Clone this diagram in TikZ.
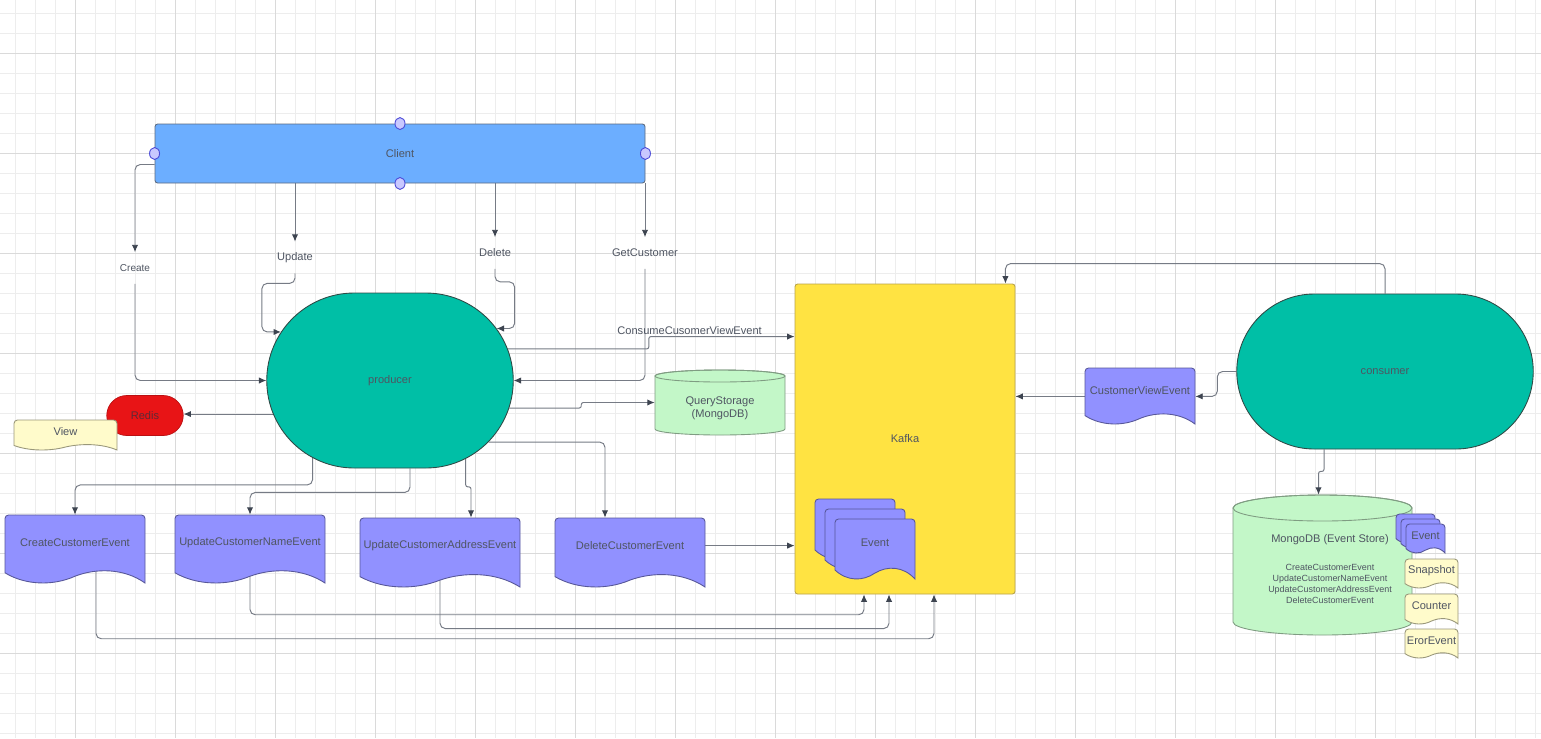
\documentclass[tikz,border=0pt]{standalone}
\usepackage{fontspec}
\setmainfont{Liberation Sans}
\usetikzlibrary{arrows.meta, calc, shapes.misc}

\definecolor{gridminor}{HTML}{EDEDED}
\definecolor{gridmajor}{HTML}{DADADA}
\definecolor{wirecol}{HTML}{767B85}
\definecolor{tipgray}{HTML}{3D4450}
\definecolor{txtgray}{HTML}{4F5562}
\definecolor{clientblue}{HTML}{6CAEFF}
\definecolor{clientedge}{HTML}{5C6B80}
\definecolor{svcteal}{HTML}{00BFA6}
\definecolor{svcedge}{HTML}{2F4A46}
\definecolor{evpurple}{HTML}{9191FF}
\definecolor{kafkayellow}{HTML}{FFE342}
\definecolor{kafkaedge}{HTML}{B9A348}
\definecolor{dbgreen}{HTML}{C3F7C8}
\definecolor{dbedge}{HTML}{7F9C82}
\definecolor{notecream}{HTML}{FFFBCB}
\definecolor{redisred}{HTML}{E81416}
\definecolor{redistext}{HTML}{5E2A35}
\definecolor{handlefill}{HTML}{C8C8FF}
\definecolor{handleedge}{HTML}{4B4BD8}

\def\px{0.02cm}

\pgfdeclarelayer{grid}
\pgfdeclarelayer{wires}
\pgfsetlayers{grid,wires,main}

\tikzset{
  lbl/.style={font=\fontsize{6.3}{7.6}\selectfont, text=txtgray, inner sep=1pt},
  flowlbl/.style={lbl, minimum height=31*\px, inner sep=0pt},
  wire/.style={draw=wirecol, line width=0.55pt, rounded corners=3pt,
    -{Latex[length=4.2pt, width=3.6pt, color=tipgray]}},
  jog/.style={wire, rounded corners=1.2pt},
  svc/.style={lbl, rounded rectangle, draw=svcedge, fill=svcteal, line width=0.5pt},
  box/.style={lbl, draw, line width=0.5pt, rounded corners=1.5pt},
  handle/.style={fill=handlefill, draw=handleedge, line width=0.5pt},
  gridline/.style={draw=gridminor, line width=0.45pt},
  gridbold/.style={draw=gridmajor, line width=0.5pt},
}

% wavy document outline: fill, x, y, w, h
\newcommand{\wavepath}[5]{%
  \filldraw[fill=#1, draw=#1!60!black, line width=0.5pt]
    (#2,{#3+0.85*#5}) [rounded corners=2pt] -- (#2,#3) -- ({#2+#4},#3)
    [sharp corners] -- ({#2+#4},{#3+#5})
    .. controls ({#2+0.85*#4},{#3+0.78*#5}) and ({#2+0.65*#4},{#3+0.78*#5}) .. ({#2+0.5*#4},{#3+0.9*#5})
    .. controls ({#2+0.35*#4},{#3+1.04*#5}) and ({#2+0.15*#4},{#3+1.04*#5}) .. cycle;
}
% document with its node: name, fill, x, y, w, h, text
\newcommand{\wavedoc}[7]{%
  \wavepath{#2}{#3}{#4}{#5}{#6}
  \node[lbl, minimum width=#5*\px, minimum height=0.8*#6*\px] (#1) at ({#3+#5/2},{#4+0.4*#6}) {#7};
}
% cylinder outline: x, y, w, h, ry, fill
\newcommand{\drum}[6]{%
  \filldraw[fill=#6, draw=dbedge, line width=0.5pt]
    (#1,{#2+#5}) -- (#1,{#2+#4-#5}) arc[start angle=180, end angle=0, x radius={#3/2}, y radius=#5]
    -- ({#1+#3},{#2+#5}) arc[start angle=0, end angle=-180, x radius={#3/2}, y radius=#5] -- cycle;
  \draw[dbedge, line width=0.5pt] ({#1+#3/2},{#2+#5}) ellipse[x radius={#3/2}, y radius=#5];
}

\begin{document}
\begin{tikzpicture}[x=\px, y=-\px]
  \useasboundingbox (0,0) rectangle (1541,738);

  \begin{pgfonlayer}{grid}
    \fill[white] (0,0) rectangle (1541,738);
    \foreach \gx in {15,35,...,1535} \draw[gridline] (\gx,0) -- (\gx,738);
    \foreach \gy in {13,33,...,733} \draw[gridline] (0,\gy) -- (1541,\gy);
    \foreach \gx in {75,175,...,1475} \draw[gridbold] (\gx,0) -- (\gx,738);
    \foreach \gy in {53,153,...,653} \draw[gridbold] (0,\gy) -- (1541,\gy);
  \end{pgfonlayer}

  % client and its requests
  \node[box, draw=clientedge, fill=clientblue, minimum width=490*\px, minimum height=59*\px] (client) at (400,153.5) {Client};
  \foreach \a in {north,south,east,west}
    \filldraw[handle] (client.\a) ellipse[x radius=5, y radius=6];

  \node[flowlbl, font=\fontsize{5.7}{7}\selectfont] (create) at (135,268) {Create};
  \node[flowlbl] (update) at (295,257.5) {Update};
  \node[flowlbl] (delete) at (495,253) {Delete};
  \node[flowlbl] (getc) at (645,253) {GetCustomer};

  % services
  \node[svc, minimum width=250*\px, minimum height=175*\px] (producer) at (390,380.5) {producer};
  \node[svc, minimum width=300*\px, minimum height=155*\px] (consumer) at (1385,371.5) {consumer};

  \node[lbl, rounded rectangle, fill=redisred, draw=redisred!80!black, text=redistext,
    minimum width=80*\px, minimum height=40*\px] (redis) at (145,415.5) {Redis};
  \wavedoc{view}{notecream}{14}{420}{103}{30}{View}

  % query storage
  \drum{655}{370}{130}{65}{6}{dbgreen}
  \node[minimum width=130*\px, minimum height=65*\px] (qs) at (720,402.5) {};
  \node[lbl, align=center] (qstext) at (720,408) {QueryStorage\\(MongoDB)};

  % kafka
  \node[box, draw=kafkaedge, fill=kafkayellow, minimum width=220*\px, minimum height=310*\px] (kafka) at (905,439) {Kafka};
  \wavepath{evpurple}{815}{499}{80}{60}
  \wavepath{evpurple}{825}{509}{80}{60}
  \wavedoc{kev}{evpurple}{835}{519}{80}{60}{Event}

  % events
  \wavedoc{cce}{evpurple}{5}{515}{140}{68}{CreateCustomerEvent}
  \wavedoc{ucne}{evpurple}{175}{515}{150}{68}{UpdateCustomerNameEvent}
  \wavedoc{ucae}{evpurple}{360}{518}{160}{69}{UpdateCustomerAddressEvent}
  \wavedoc{dce}{evpurple}{555}{518}{150}{69}{DeleteCustomerEvent}
  \wavedoc{cve}{evpurple}{1085}{368}{110}{56}{CustomerViewEvent}

  % event store
  \drum{1233}{495}{179}{140}{13}{dbgreen}
  \node[minimum width=179*\px, minimum height=140*\px] (mongo) at (1322.5,565) {};
  \node[lbl] (mongotitle) at (1330,540) {MongoDB (Event Store)};
  \node[lbl, font=\fontsize{5.1}{6.2}\selectfont, align=center] (mongolist) at (1330,584)
    {CreateCustomerEvent\\UpdateCustomerNameEvent\\UpdateCustomerAddressEvent\\DeleteCustomerEvent};
  \wavepath{evpurple}{1396}{514}{39}{29}
  \wavepath{evpurple}{1401}{519}{39}{29}
  \wavedoc{mev}{evpurple}{1406}{524}{39}{29}{Event}
  \wavedoc{snap}{notecream}{1405}{559}{53}{29}{Snapshot}
  \wavedoc{counter}{notecream}{1405}{594}{53}{30}{Counter}
  \wavedoc{eror}{notecream}{1405}{629}{53}{29}{ErorEvent}

  \begin{pgfonlayer}{wires}
    \draw[wire] ($(client.west)+(0,11)$) -| (create.north);
    \draw[wire] (client.south -| update.north) -- (update.north);
    \draw[wire] (client.south -| delete.north) -- (delete.north);
    \draw[wire] (client.south -| getc.north) -- (getc.north);
    \draw[wire] (create.south) |- (producer.west);
    \draw[wire] (update.south) -- ++(0,10) -| ($(producer.156)+(-19,0)$) -- (producer.156);
    \draw[wire] (delete.south) -- ++(0,13) -| ($(producer.26)+(18,0)$) -- (producer.26);
    \draw[wire] (getc.south) |- (producer.east);

    \draw[jog] (producer.15) -- ++(141,0) |- node[lbl, above, pos=0.64] (cvlbl) {ConsumeCusomerViewEvent} ($(kafka.north west)+(0,53)$);
    \draw[jog] (producer.-13) -- ++(72,0) |- (qs.west);
    \draw[wire] (producer.196) -- (producer.196 -| redis.east);

    \draw[wire] (producer.-135) -- ++(0,27) -| (cce.north);
    \draw[wire] ($(producer.south)+(20,0)$) -- ++(0,24) -| (ucne.north);
    \draw[jog] (producer.-46) -- ++(0,28) -| ($(ucae.north)+(31,0)$);
    \draw[wire] (producer.-32) -| ($(dce.north)+(-25,0)$);

    \draw[wire] (ucne.south) -- ++(0,45) -| ($(kafka.south)+(-41,0)$);
    \draw[wire] (ucae.south) -- ++(0,55) -| ($(kafka.south)+(-16,0)$);
    \draw[wire] ($(cce.south)+(21,0)$) -- ++(0,69) -| ($(kafka.south)+(29,0)$);
    \draw[wire] (dce.east) -- (dce.east -| kafka.west);

    \draw[wire] (consumer.north) -- ++(0,-30) -| ($(kafka.north east)+(-10,0)$);
    \draw[wire] (consumer.west) -- ++(-19,0) |- ($(cve.east)+(0,6)$);
    \coordinate (cvout) at ($(cve.west)+(0,6)$);
    \draw[wire] (cvout) -- (cvout -| kafka.east);
    \draw[jog] ($(consumer.south)+(-61,0)$) -- ++(0,22) -| ($(mongo.north)+(-4,0)$);
  \end{pgfonlayer}
\end{tikzpicture}
\end{document}
